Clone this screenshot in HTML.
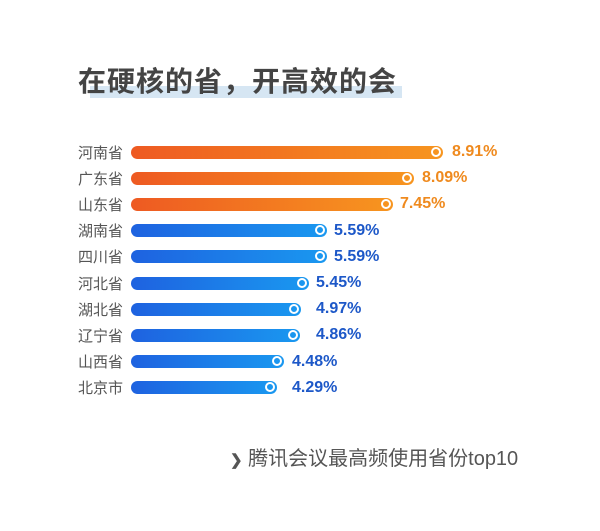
<!DOCTYPE html>
<html><head><meta charset="utf-8"><style>
body{margin:0;width:600px;height:531px;background:#fff;position:relative;overflow:hidden;font-family:"Liberation Sans","Noto Sans CJK SC",sans-serif}
.a{position:absolute}
.t{left:78px;top:60px;font-size:28px;font-weight:bold;color:#444;letter-spacing:1px;white-space:nowrap}
.hl{left:90px;top:86px;width:312px;height:12px;background:#d6e6f3}
.lab{left:78px;font-size:15px;color:#555;white-space:nowrap}
.bar{left:131px;height:13px;border-radius:6.5px}
.o{background:linear-gradient(90deg,#ee5a22,#f7951f)}
.b{background:linear-gradient(90deg,#1e62e0,#1a98f0)}
.c{width:6px;height:6px;border:2.5px solid #fff;border-radius:50%;top:1px}
.v{font-size:16px;font-weight:bold;white-space:nowrap}
.vo{color:#ef8a1e}.vb{color:#1d58c8}
.f{left:230px;top:442px;font-size:20px;color:#555;white-space:nowrap}
</style></head><body>
<div class="a hl"></div>
<div class="a t">在硬核的省，开高效的会</div>
<div id="c"></div>
<div class="a f"><span style="font-size:15px;color:#555;font-weight:bold">❯</span> 腾讯会议最高频使用省份top10</div>
<script>
var d=[["河南省",436,"8.91%",452,1],["广东省",407,"8.09%",422,1],["山东省",386,"7.45%",400,1],["湖南省",320,"5.59%",334,0],["四川省",320,"5.59%",334,0],["河北省",302,"5.45%",316,0],["湖北省",294,"4.97%",316,0],["辽宁省",293,"4.86%",316,0],["山西省",277,"4.48%",292,0],["北京市",270,"4.29%",292,0]];
var h="";
d.forEach(function(r,i){var y=152+i*26.2;
h+='<div class="a lab" style="top:'+(y-10.5)+'px">'+r[0]+'</div>';
h+='<div class="a bar '+(r[4]?'o':'b')+'" style="top:'+(y-6.5)+'px;width:'+(r[1]+7-131)+'px"><div class="a c" style="left:'+(r[1]-131-5.5)+'px"></div></div>';
h+='<div class="a v '+(r[4]?'vo':'vb')+'" style="top:'+(y-9)+'px;left:'+r[3]+'px">'+r[2]+'</div>';});
document.getElementById("c").innerHTML=h;
</script>
</body></html>
